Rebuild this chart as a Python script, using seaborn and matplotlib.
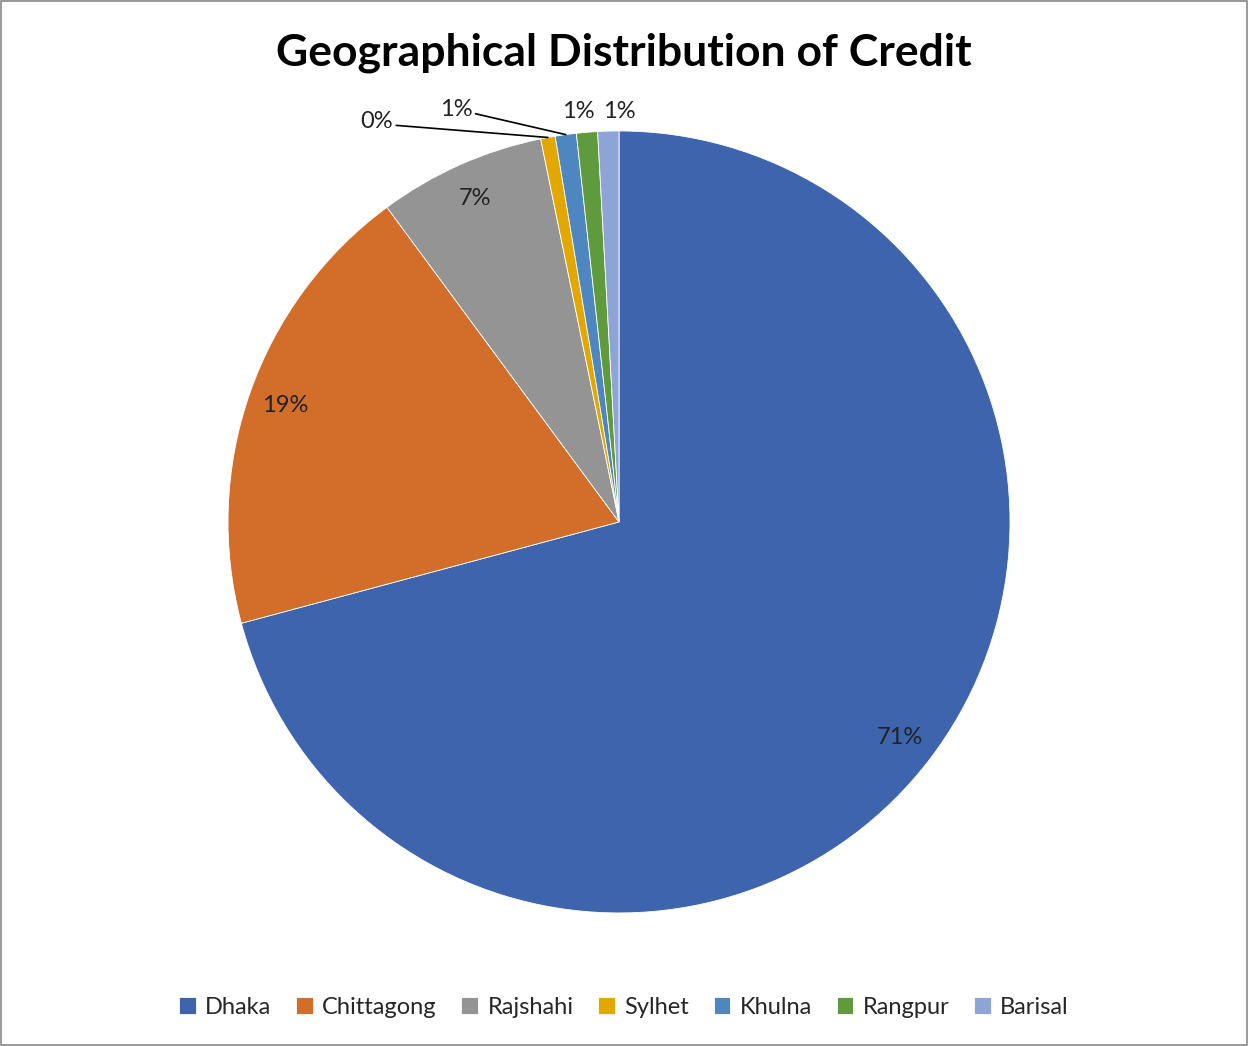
import numpy as np
import matplotlib
matplotlib.use("Agg")
import matplotlib.pyplot as plt
import seaborn as sns
from matplotlib.patches import Rectangle

# data
regions = ["Dhaka", "Chittagong", "Rajshahi", "Sylhet", "Khulna", "Rangpur", "Barisal"]
shares = [70.8, 19.05, 6.9, 0.6, 0.87, 0.87, 0.87]
pct_labels = ["71%", "19%", "7%", "0%", "1%", "1%", "1%"]
colors = ["#3D64AD", "#D36E2A", "#949494", "#E3A800", "#4E87C0", "#5F9B3C", "#8FA4D6"]

sns.set_theme(style="white")
plt.rcParams['font.family'] = ['Lato', 'DejaVu Sans']

fig = plt.figure(figsize=(12.48, 10.46), dpi=100)
ax = fig.add_axes([0.496 - 0.3133, 0.501 - 0.3738, 0.6266, 0.7476])

wedges, _ = ax.pie(shares, colors=sns.color_palette(colors), startangle=90,
                   counterclock=False, radius=1.0,
                   wedgeprops=dict(edgecolor="white", linewidth=0.6))
ax.set_xlim(-1, 1)
ax.set_ylim(-1, 1)
ax.set_aspect("equal")
ax.axis("off")

# inside labels for the big slices
for w, lab in zip(wedges[:3], pct_labels[:3]):
    mid = np.deg2rad((w.theta1 + w.theta2) / 2)
    ax.text(0.905 * np.cos(mid), 0.905 * np.sin(mid), lab, ha="center", va="center",
            fontsize=17, color="#222222")

# outside labels for the small slices
out_pos = [(-0.62, 1.023), (-0.417, 1.054), (-0.105, 1.05), (0.0, 1.05)]
for i, (w, lab, pos) in enumerate(zip(wedges[3:], pct_labels[3:], out_pos)):
    mid = np.deg2rad((w.theta1 + w.theta2) / 2)
    edge = (np.cos(mid), np.sin(mid))
    if i < 2:
        ax.annotate(lab, xy=edge, xytext=pos, ha="center", va="center",
                    fontsize=17, color="#222222",
                    arrowprops=dict(arrowstyle="-", color="black", lw=1.2,
                                    shrinkA=0, shrinkB=0, relpos=(1, 0.35)))
    else:
        ax.text(pos[0], pos[1], lab, ha="center", va="center",
                fontsize=17, color="#222222")

fig.text(0.5, 1 - 53 / 1046, "Geographical Distribution of Credit", ha="center",
         va="center", fontsize=32, fontweight="bold", color="black")

fig.legend(wedges, regions, loc="center", bbox_to_anchor=(0.5, 1 - 1007 / 1046),
           ncol=7, frameon=False, fontsize=17, handlelength=0.7, handleheight=0.7,
           handletextpad=0.4, columnspacing=1.05)

fig.patches.append(Rectangle((0.001, 0.001), 0.998, 0.998, transform=fig.transFigure,
                             fill=False, edgecolor="#888888", linewidth=1.2))

fig.savefig("out.png", dpi=100)
